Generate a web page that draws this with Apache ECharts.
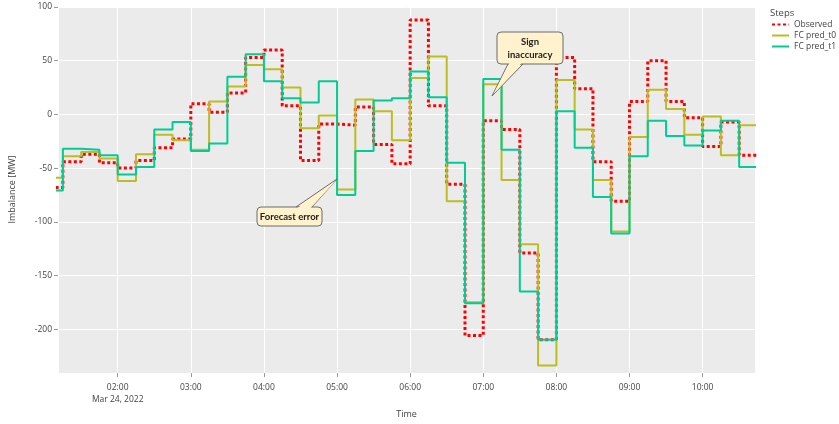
<!DOCTYPE html>
<html>
<head>
<meta charset="utf-8">
<script src="https://cdn.jsdelivr.net/npm/echarts@6/dist/echarts.min.js"></script>
<style>
  html, body { margin: 0; padding: 0; background: #fff; }
  #imbalance { width: 839px; height: 424px; }
</style>
</head>
<body>
<div id="imbalance"></div>
<script>
// 15 min steps, Mar 24 2022, first step starts 01:00
var startTime = Date.UTC(2022, 2, 24, 1, 0);
var stepMs = 15 * 60 * 1000;

var observed = [-68, -44, -37, -45, -50, -43, -31, -23, 10, 2, 20, 53, 60, 8, -43, -9,
    -10, 7, -28, -46, 88, 8, -65, -206, -6, -14, -129, -210, 53, 24, -44, -81,
    12, 50, 12, -3, -30, -7, -38];
var predT0 = [-59, -39, -35, -41, -62, -37, -19, -24, -33, 12, 26, 46, 42, 25, -13, -1,
    -70, 14, 3, -24, 34, 54, -81, -175, 28, -61, -121, -234, 32, -14, -61, -109,
    -21, 23, 5, -19, -2, -38, -10];
var predT1 = [-71, -32, -33, -38, -56, -49, -14, -7, -34, -27, 35, 56, 31, 15, 11, 31,
    -75, -34, 13, 15, 40, 16, -45, -176, 33, -33, -165, -210, 3, -31, -77, -111,
    -39, -6, -20, -29, -15, -6, -49];

var yTicks = [-200, -150, -100, -50, 0, 50, 100];

function toPairs(values) {
    var out = values.map(function (v, i) {
        return [startTime + i * stepMs, v];
    });
    // close the last step so it reaches the right edge
    out.push([startTime + values.length * stepMs, values[values.length - 1]]);
    return out;
}

// speech bubble: pointer triangle, rounded box, then a patch over the joint
function bubble(box, tri, patch, text) {
    var fill = '#fff2cc', edge = '#6b6b6b';
    return [
        { type: 'polygon', z: 100, shape: { points: tri }, style: { fill: fill, stroke: edge, lineWidth: 1 } },
        { type: 'rect', z: 101, shape: { x: box[0], y: box[1], width: box[2], height: box[3], r: 4 },
          style: { fill: fill, stroke: edge, lineWidth: 1 } },
        { type: 'polygon', z: 102, shape: { points: patch }, style: { fill: fill } },
        { type: 'text', z: 103, x: box[0] + box[2] / 2, y: box[1] + box[3] / 2,
          style: { text: text, fontFamily: 'Lato', fontWeight: 'bold', fontSize: 9.5, lineHeight: 13,
                   fill: '#222', align: 'center', verticalAlign: 'middle' } }
    ];
}

var myChart = echarts.init(document.getElementById('imbalance'));
var font = 'Open Sans';
var option = {
    useUTC: true,
    animation: false,
    textStyle: { fontFamily: font },
    title: {
        text: 'Steps',
        left: 770,
        top: 8,
        padding: 0,
        textStyle: { fontSize: 9.5, fontWeight: 'normal', color: '#444', fontFamily: font }
    },
    legend: {
        orient: 'vertical',
        left: 771,
        top: 20,
        padding: 0,
        itemWidth: 17,
        itemHeight: 10,
        itemGap: 2,
        itemStyle: { opacity: 0 },
        textStyle: { fontSize: 8.5, color: '#444', fontFamily: font },
        data: ['Observed', 'FC pred_t0', 'FC pred_t1']
    },
    grid: {
        left: 52,
        right: 84,
        top: 6,
        bottom: 45,
        show: true,
        backgroundColor: '#ebebeb',
        borderWidth: 0
    },
    xAxis: {
        type: 'time',
        min: Date.UTC(2022, 2, 24, 1, 11),
        max: Date.UTC(2022, 2, 24, 10, 43),
        minInterval: 3600 * 1000,
        maxInterval: 3600 * 1000,
        name: 'Time',
        nameLocation: 'middle',
        nameGap: 33,
        nameTextStyle: { fontSize: 9, color: '#444' },
        axisLine: { show: false, onZero: false },
        axisTick: { show: true, length: 4, lineStyle: { color: '#999' } },
        splitLine: { show: true, lineStyle: { color: '#fff', width: 1 } },
        axisLabel: {
            fontSize: 8.5,
            color: '#444',
            margin: 8,
            lineHeight: 12,
            showMinLabel: false,
            showMaxLabel: false,
            formatter: function (val) {
                var d = new Date(val);
                if (d.getUTCMinutes() !== 0) return '';
                var h = d.getUTCHours();
                var s = (h < 10 ? '0' : '') + h + ':00';
                if (h === 2) s += '\nMar 24, 2022';
                return s;
            }
        }
    },
    yAxis: {
        type: 'value',
        min: -241,
        max: 101,
        splitNumber: 7,
        name: 'Imbalance [MW]',
        nameLocation: 'middle',
        nameGap: 41,
        nameTextStyle: { fontSize: 9, color: '#444' },
        axisLine: { show: false, onZero: false },
        axisTick: { show: true, length: 4, lineStyle: { color: '#999' } },
        splitLine: { show: true, lineStyle: { color: '#fff', width: 1 } },
        axisLabel: {
            fontSize: 8.5,
            color: '#444',
            margin: 6,
            showMinLabel: false,
            showMaxLabel: false,
            formatter: function (v) {
                return yTicks.indexOf(v) >= 0 ? String(v) : '';
            }
        }
    },
    series: [
        {
            name: 'Observed',
            type: 'line',
            step: 'end',
            symbol: 'none',
            data: toPairs(observed),
            lineStyle: { color: '#ff0000', width: 3, type: [3, 2.5] },
            itemStyle: { color: '#ff0000' }
        },
        {
            name: 'FC pred_t0',
            type: 'line',
            step: 'end',
            symbol: 'none',
            data: toPairs(predT0),
            lineStyle: { color: '#bcbd22', width: 2 },
            itemStyle: { color: '#bcbd22' }
        },
        {
            name: 'FC pred_t1',
            type: 'line',
            step: 'end',
            symbol: 'none',
            data: toPairs(predT1),
            lineStyle: { color: '#00cc96', width: 2 },
            itemStyle: { color: '#00cc96' }
        }
    ],
    graphic: bubble([257, 207, 65, 19], [[296, 207], [337, 179], [312, 207]],
                    [[297.5, 208], [336, 180.5], [310.5, 208]], 'Forecast error')
        .concat(bubble([497, 32, 66, 32], [[508, 64], [492, 96], [523, 64]],
                       [[509.5, 63], [493.5, 94], [521.5, 63]], 'Sign\ninaccuracy'))
};
myChart.setOption(option);
window.onresize = myChart.resize;
</script>
</body>
</html>
